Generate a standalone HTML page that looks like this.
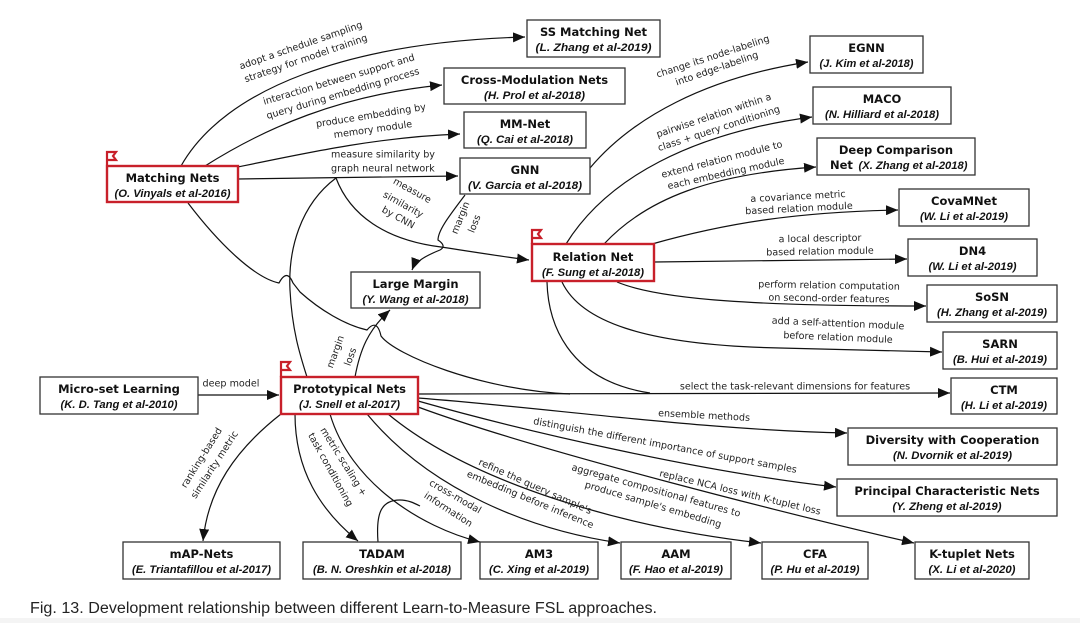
<!DOCTYPE html>
<html><head><meta charset="utf-8"><style>
html,body{margin:0;padding:0;background:#fff;}
svg{display:block;}
.t{font-family:"DejaVu Sans","Liberation Sans",sans-serif;font-weight:bold;font-size:11.5px;fill:#111;text-anchor:middle;}
.s{font-family:"Liberation Sans",sans-serif;font-weight:bold;font-style:italic;font-size:11px;fill:#111;text-anchor:middle;}
.l{font-family:"DejaVu Sans","Liberation Sans",sans-serif;font-size:9.6px;fill:#222;text-anchor:middle;dominant-baseline:central;}
.e{fill:none;stroke:#111;stroke-width:1.2;}
.b{fill:#fff;stroke:#333;stroke-width:1.3;}
.r{fill:#fff;stroke:#c8202a;stroke-width:2.4;}
</style></head><body>
<svg width="1080" height="623" viewBox="0 0 1080 623" xmlns="http://www.w3.org/2000/svg">
<defs><marker id="a" markerUnits="userSpaceOnUse" markerWidth="13" markerHeight="10" refX="12" refY="5" orient="auto"><path d="M0,0 L12,5 L0,10 z" fill="#111"/></marker></defs>
<rect x="0" y="0" width="1080" height="623" fill="#fff"/>
<rect x="0" y="618" width="1080" height="5" fill="#f4f4f4"/>

<!-- edges -->
<path class="e" marker-end="url(#a)" d="M181,166 C225,88 350,42 525,37"/>
<path class="e" marker-end="url(#a)" d="M205,166 C265,128 340,95 442,85"/>
<path class="e" marker-end="url(#a)" d="M238,167 C310,152 380,137 460,134"/>
<path class="e" marker-end="url(#a)" d="M238,179 L458,176"/>
<path class="e" marker-end="url(#a)" d="M336,178 C350,215 385,240 441,247 C480,253 505,257 529,260"/>
<path class="e" marker-end="url(#a)" d="M465,195 C450,215 438,230 438,240 Q447,246 440,250 C425,256 415,262 412,270"/>
<path class="e" d="M336,178 C300,205 288,250 290,290 C292,330 300,355 307,377"/>
<path class="e" d="M188,203 C220,245 255,278 279,283 Q287,268 293,283 L300,292 C320,310 345,325 367,330 Q377,318 381,336 C395,355 480,390 570,394"/>
<path class="e" marker-end="url(#a)" d="M590,168 C632,118 705,78 808,62"/>
<path class="e" marker-end="url(#a)" d="M566,244 C607,178 692,133 812,117"/>
<path class="e" marker-end="url(#a)" d="M604,244 C647,198 712,174 816,167"/>
<path class="e" marker-end="url(#a)" d="M652,244 C730,222 800,212 898,210"/>
<path class="e" marker-end="url(#a)" d="M654,262 L907,259"/>
<path class="e" marker-end="url(#a)" d="M617,282 C660,300 760,306 926,306"/>
<path class="e" marker-end="url(#a)" d="M562,282 C580,320 640,345 780,348 L942,352"/>
<path class="e" d="M547,282 C548,320 565,380 650,393"/>
<path class="e" marker-end="url(#a)" d="M418,394 L950,393"/>
<path class="e" marker-end="url(#a)" d="M198,395 L279,395"/>
<path class="e" marker-end="url(#a)" d="M355,377 C360,350 368,330 390,310"/>
<path class="e" marker-end="url(#a)" d="M418,398 C550,408 700,430 847,433"/>
<path class="e" marker-end="url(#a)" d="M418,401 C520,430 700,472 836,487"/>
<path class="e" marker-end="url(#a)" d="M418,407 C540,452 800,517 914,543"/>
<path class="e" marker-end="url(#a)" d="M388,414 C470,482 620,527 761,543"/>
<path class="e" marker-end="url(#a)" d="M367,414 C430,490 530,530 620,543"/>
<path class="e" marker-end="url(#a)" d="M330,414 C350,482 420,527 480,542"/>
<path class="e" d="M378,542 C376,515 380,500 400,500 C408,500 414,503 420,506"/>
<path class="e" marker-end="url(#a)" d="M295,414 C295,470 320,510 358,541"/>
<path class="e" marker-end="url(#a)" d="M281,414 C235,450 208,490 203,541"/>

<!-- edge labels -->
<text class="l" transform="translate(301,46) rotate(-19)">adopt a schedule sampling</text>
<text class="l" transform="translate(306,59) rotate(-19)">strategy for model training</text>
<text class="l" transform="translate(339,80) rotate(-16.5)">interaction between support and</text>
<text class="l" transform="translate(343,94) rotate(-16.5)">query during embedding process</text>
<text class="l" transform="translate(371,116) rotate(-9)">produce embedding by</text>
<text class="l" transform="translate(373,130) rotate(-8)">memory module</text>
<text class="l" style="text-anchor:start" x="331" y="155">measure similarity by</text>
<text class="l" style="text-anchor:start" x="331" y="169">graph neural network</text>
<text class="l" transform="translate(412,191) rotate(29)">measure</text>
<text class="l" transform="translate(403,205) rotate(29)">similarity</text>
<text class="l" transform="translate(398,218) rotate(29)">by CNN</text>
<text class="l" transform="translate(461,218) rotate(-68)">margin</text>
<text class="l" transform="translate(475,224) rotate(-68)">loss</text>
<text class="l" transform="translate(713,57) rotate(-18)">change its node-labeling</text>
<text class="l" transform="translate(717,69) rotate(-19)">into edge-labeling</text>
<text class="l" transform="translate(714,116) rotate(-18.5)">pairwise relation within a</text>
<text class="l" transform="translate(719,129) rotate(-18)">class + query conditioning</text>
<text class="l" transform="translate(722,160) rotate(-14.4)">extend relation module to</text>
<text class="l" transform="translate(726,174) rotate(-12.4)">each embedding module</text>
<text class="l" transform="translate(798,197) rotate(-3)">a covariance metric</text>
<text class="l" transform="translate(799,209) rotate(-3)">based relation module</text>
<text class="l" transform="translate(820,239) rotate(-1)">a local descriptor</text>
<text class="l" transform="translate(820,252) rotate(-1)">based relation module</text>
<text class="l" transform="translate(829,286) rotate(1)">perform relation computation</text>
<text class="l" transform="translate(829,299) rotate(1)">on second-order features</text>
<text class="l" transform="translate(838,324) rotate(2.5)">add a self-attention module</text>
<text class="l" transform="translate(838,338) rotate(2.5)">before relation module</text>
<text class="l" x="795" y="387">select the task-relevant dimensions for features</text>
<text class="l" x="231" y="384">deep model</text>
<text class="l" transform="translate(336,352) rotate(-70)">margin</text>
<text class="l" transform="translate(351,357) rotate(-70)">loss</text>
<text class="l" transform="translate(704,416) rotate(3)">ensemble methods</text>
<text class="l" transform="translate(665,446) rotate(10.5)">distinguish the different importance of support samples</text>
<text class="l" transform="translate(740,493) rotate(13.5)">replace NCA loss with K-tuplet loss</text>
<text class="l" transform="translate(656,491) rotate(15.5)">aggregate compositional features to</text>
<text class="l" transform="translate(653,505) rotate(16.5)">produce sample's embedding</text>
<text class="l" transform="translate(535,487) rotate(24)">refine the query sample's</text>
<text class="l" transform="translate(530,500) rotate(22.5)">embedding before inference</text>
<text class="l" transform="translate(455,497) rotate(30)">cross-modal</text>
<text class="l" transform="translate(448,510) rotate(33)">information</text>
<text class="l" transform="translate(343,462) rotate(58)">metric scaling +</text>
<text class="l" transform="translate(330,470) rotate(61)">task conditioning</text>
<text class="l" transform="translate(202,458) rotate(-58)">ranking-based</text>
<text class="l" transform="translate(215,465) rotate(-57)">similarity metric</text>

<!-- flags -->
<path d="M107,165 L107,152 L116,152 L113,156 L116,160 L107,160" fill="none" stroke="#c8202a" stroke-width="2.2"/>
<path d="M532,244 L532,230 L541,230 L538,234 L541,238 L532,238" fill="none" stroke="#c8202a" stroke-width="2.2"/>
<path d="M281,377 L281,362 L290,362 L287,366 L290,370 L281,370" fill="none" stroke="#c8202a" stroke-width="2.2"/>

<!-- boxes -->
<rect class="b" x="527" y="20" width="133" height="37"/><text class="t" x="593.5" y="36">SS Matching Net</text><text class="s" x="593.5" y="51" textLength="116" lengthAdjust="spacingAndGlyphs">(L. Zhang et al-2019)</text>
<rect class="b" x="444" y="68" width="181" height="36"/><text class="t" x="534.5" y="84">Cross-Modulation Nets</text><text class="s" x="534.5" y="99" textLength="101" lengthAdjust="spacingAndGlyphs">(H. Prol et al-2018)</text>
<rect class="b" x="464" y="112" width="122" height="36"/><text class="t" x="525" y="128">MM-Net</text><text class="s" x="525" y="143" textLength="96" lengthAdjust="spacingAndGlyphs">(Q. Cai et al-2018)</text>
<rect class="b" x="460" y="158" width="130" height="36"/><text class="t" x="525" y="174">GNN</text><text class="s" x="525" y="189" textLength="114" lengthAdjust="spacingAndGlyphs">(V. Garcia et al-2018)</text>
<rect class="r" x="107" y="166" width="131" height="36"/><text class="t" x="172.5" y="182">Matching Nets</text><text class="s" x="172.5" y="197" textLength="116" lengthAdjust="spacingAndGlyphs">(O. Vinyals et al-2016)</text>
<rect class="b" x="351" y="272" width="129" height="36"/><text class="t" x="415.5" y="288">Large Margin</text><text class="s" x="415.5" y="303" textLength="106" lengthAdjust="spacingAndGlyphs">(Y. Wang et al-2018)</text>
<rect class="r" x="532" y="244" width="122" height="37"/><text class="t" x="593" y="261">Relation Net</text><text class="s" x="593" y="276" textLength="102" lengthAdjust="spacingAndGlyphs">(F. Sung et al-2018)</text>
<rect class="b" x="810" y="36" width="113" height="37"/><text class="t" x="866.5" y="52">EGNN</text><text class="s" x="866.5" y="67" textLength="94" lengthAdjust="spacingAndGlyphs">(J. Kim et al-2018)</text>
<rect class="b" x="813" y="87" width="138" height="37"/><text class="t" x="882" y="103">MACO</text><text class="s" x="882" y="118" textLength="114" lengthAdjust="spacingAndGlyphs">(N. Hilliard et al-2018)</text>
<rect class="b" x="817" y="138" width="158" height="37"/><text class="t" x="896" y="154">Deep Comparison</text><text class="t" x="830" y="169" style="text-anchor:start">Net</text><text class="s" x="913" y="169" textLength="109" lengthAdjust="spacingAndGlyphs">(X. Zhang et al-2018)</text>
<rect class="b" x="899" y="189" width="130" height="37"/><text class="t" x="964" y="205">CovaMNet</text><text class="s" x="964" y="220" textLength="88" lengthAdjust="spacingAndGlyphs">(W. Li et al-2019)</text>
<rect class="b" x="908" y="239" width="129" height="37"/><text class="t" x="972.5" y="255">DN4</text><text class="s" x="972.5" y="270" textLength="88" lengthAdjust="spacingAndGlyphs">(W. Li et al-2019)</text>
<rect class="b" x="927" y="285" width="130" height="37"/><text class="t" x="992" y="301">SoSN</text><text class="s" x="992" y="316" textLength="110" lengthAdjust="spacingAndGlyphs">(H. Zhang et al-2019)</text>
<rect class="b" x="943" y="332" width="114" height="37"/><text class="t" x="1000" y="348">SARN</text><text class="s" x="1000" y="363" textLength="94" lengthAdjust="spacingAndGlyphs">(B. Hui et al-2019)</text>
<rect class="b" x="951" y="378" width="106" height="36"/><text class="t" x="1004" y="394">CTM</text><text class="s" x="1004" y="409" textLength="86" lengthAdjust="spacingAndGlyphs">(H. Li et al-2019)</text>
<rect class="b" x="848" y="428" width="209" height="37"/><text class="t" x="952.5" y="444">Diversity with Cooperation</text><text class="s" x="952.5" y="459" textLength="119" lengthAdjust="spacingAndGlyphs">(N. Dvornik et al-2019)</text>
<rect class="b" x="837" y="479" width="220" height="37"/><text class="t" x="947" y="495">Principal Characteristic Nets</text><text class="s" x="947" y="510" textLength="109" lengthAdjust="spacingAndGlyphs">(Y. Zheng et al-2019)</text>
<rect class="b" x="915" y="542" width="114" height="37"/><text class="t" x="972" y="558">K-tuplet Nets</text><text class="s" x="972" y="573" textLength="87" lengthAdjust="spacingAndGlyphs">(X. Li et al-2020)</text>
<rect class="b" x="762" y="542" width="106" height="37"/><text class="t" x="815" y="558">CFA</text><text class="s" x="815" y="573" textLength="89" lengthAdjust="spacingAndGlyphs">(P. Hu et al-2019)</text>
<rect class="b" x="621" y="542" width="110" height="37"/><text class="t" x="676" y="558">AAM</text><text class="s" x="676" y="573" textLength="94" lengthAdjust="spacingAndGlyphs">(F. Hao et al-2019)</text>
<rect class="b" x="480" y="542" width="118" height="37"/><text class="t" x="539" y="558">AM3</text><text class="s" x="539" y="573" textLength="100" lengthAdjust="spacingAndGlyphs">(C. Xing et al-2019)</text>
<rect class="b" x="303" y="542" width="158" height="37"/><text class="t" x="382" y="558">TADAM</text><text class="s" x="382" y="573" textLength="138" lengthAdjust="spacingAndGlyphs">(B. N. Oreshkin et al-2018)</text>
<rect class="b" x="123" y="542" width="157" height="37"/><text class="t" x="201.5" y="558">mAP-Nets</text><text class="s" x="201.5" y="573" textLength="139" lengthAdjust="spacingAndGlyphs">(E. Triantafillou et al-2017)</text>
<rect class="b" x="40" y="377" width="158" height="37"/><text class="t" x="119" y="393">Micro-set Learning</text><text class="s" x="119" y="408" textLength="117" lengthAdjust="spacingAndGlyphs">(K. D. Tang et al-2010)</text>
<rect class="r" x="281" y="377" width="137" height="37"/><text class="t" x="349.5" y="393">Prototypical Nets</text><text class="s" x="349.5" y="408" textLength="101" lengthAdjust="spacingAndGlyphs">(J. Snell et al-2017)</text>

<text x="30" y="613" font-family="Liberation Sans, sans-serif" font-size="15.5" fill="#222" textLength="627" lengthAdjust="spacingAndGlyphs">Fig. 13. Development relationship between different Learn-to-Measure FSL approaches.</text>
</svg>
</body></html>
